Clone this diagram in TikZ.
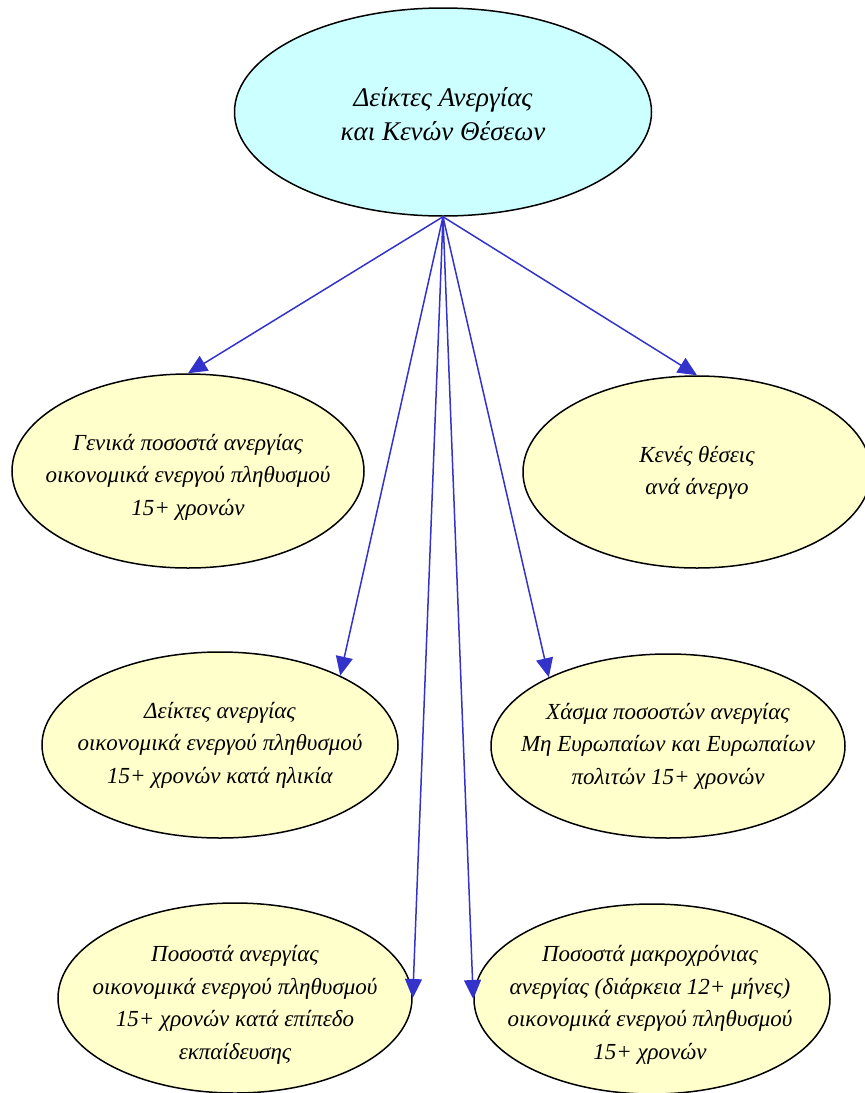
\documentclass[tikz,border=0pt]{standalone}
\usepackage{fontspec}
\setmainfont{Liberation Serif}
\usetikzlibrary{shapes.geometric,arrows.meta}
\begin{document}
\begin{tikzpicture}[x=1pt,y=1pt,yscale=-1,xscale=1,
  root/.style={ellipse,draw=black,line width=1.5pt,fill={rgb,255:red,204;green,255;blue,255},inner sep=0pt},
  leaf/.style={ellipse,draw=black,line width=1.5pt,fill={rgb,255:red,255;green,255;blue,204},inner sep=0pt},
  lbl/.style={align=center,font=\fontsize{23}{32.5}\selectfont\itshape,inner sep=0pt},
  link/.style={draw={rgb,255:red,51;green,51;blue,204},line width=1.5pt,-{Triangle[length=19pt,width=17pt]}}]
\useasboundingbox (0,0) rectangle (865,1093);
% ellipses
\node (dei) [root,minimum width=417pt,minimum height=208pt] at (443,112) {};
\node (gen) [leaf,minimum width=352pt,minimum height=194pt] at (188,471) {};
\node (vac) [leaf,minimum width=348pt,minimum height=192pt] at (697,472) {};
\node (age) [leaf,minimum width=356pt,minimum height=186pt] at (220,745) {};
\node (gap) [leaf,minimum width=354pt,minimum height=184pt] at (668,746) {};
\node (edu) [leaf,minimum width=354pt,minimum height=190pt] at (235,998) {};
\node (lng) [leaf,minimum width=356pt,minimum height=190pt] at (652,999) {};
% texts
\node (dei-t) [lbl,font=\fontsize{27}{34}\selectfont\itshape] at (443,114) {Δείκτες Ανεργίας\\ και Κενών Θέσεων};
\node (gen-t) [lbl] at (188,477) {Γενικά ποσοστά ανεργίας\\ οικονομικά ενεργού πληθυσμού\\ 15+ χρονών};
\node (vac-t) [lbl] at (697,473) {Κενές θέσεις\\ ανά άνεργο};
\node (age-t) [lbl] at (220,745) {Δείκτες ανεργίας\\ οικονομικά ενεργού πληθυσμού\\ 15+ χρονών κατά ηλικία};
\node (gap-t) [lbl] at (668,746) {Χάσμα ποσοστών ανεργίας\\ Μη Ευρωπαίων και Ευρωπαίων\\ πολιτών 15+ χρονών};
\node (edu-t) [lbl] at (235,1005) {Ποσοστά ανεργίας\\ οικονομικά ενεργού πληθυσμού\\ 15+ χρονών κατά επίπεδο\\ εκπαίδευσης};
\node (lng-t) [lbl] at (650,1005) {Ποσοστά μακροχρόνιας\\ ανεργίας (διάρκεια 12+ μήνες)\\ οικονομικά ενεργού πληθυσμού\\ 15+ χρονών};
% arrows
\draw [link] (dei.south) -- (gen.north);
\draw [link] (dei.south) -- (vac.north);
\draw [link] (dei.south) -- (age.30);
\draw [link] (dei.south) -- (gap.150);
\draw [link] (dei.south) -- (edu.east);
\draw [link] (dei.south) -- (lng.west);
\end{tikzpicture}
\end{document}
